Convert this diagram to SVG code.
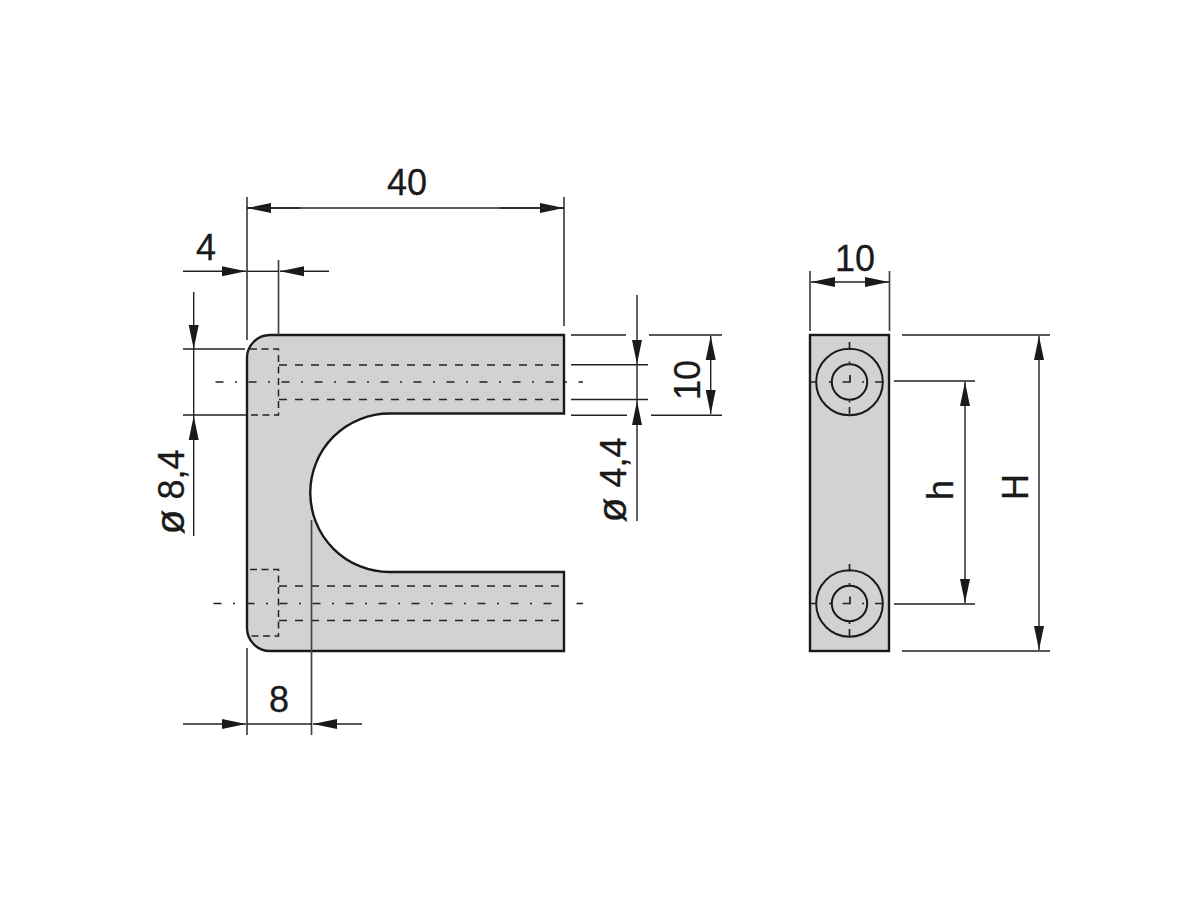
<svg xmlns="http://www.w3.org/2000/svg" width="1200" height="900" viewBox="0 0 1200 900">
<defs>
<marker id="a" viewBox="-25 -6 25 12" refX="0" refY="0" markerUnits="userSpaceOnUse" markerWidth="25" markerHeight="12" orient="auto"><path d="M0,0L-24,-5V5Z" fill="#1a1a1a"/></marker>
</defs>
<style>
.body{fill:#d2d2d3;stroke:#1a1a1a;stroke-width:2.4}
.d{stroke:#222;stroke-width:1.4;fill:none}
.x{stroke:#444;stroke-width:1.7;fill:none}
.ar{stroke:#222;stroke-width:1.4;fill:none;marker-end:url(#a)}
.hid{stroke:#222;stroke-width:1.6;fill:none;stroke-dasharray:8 8}
.hid2{stroke:#222;stroke-width:1.5;fill:none;stroke-dasharray:7 4.500}
.cl{stroke:#222;stroke-width:1.6;fill:none;stroke-dasharray:8 11.500 2 11.500}
.c{stroke:#1a1a1a;stroke-width:2;fill:none}
.t{stroke:#222;stroke-width:1.7;fill:none}
text{font-family:"Liberation Sans",Arial,sans-serif;font-size:36px;fill:#1a1a1a;text-anchor:middle;stroke:#1a1a1a;stroke-width:.3}
</style>
<rect width="1200" height="900" fill="#fff"/>
<g id="front-view">
<path class="body" d="M270,335H564V413.500H389.500A79.250,79.250 0 0 0 389.500,572H564V651H270A23,23 0 0 1 247,628V358A23,23 0 0 1 270,335Z"/>
<path class="hid2" d="M250,349H278.500V415H247"/>
<path class="hid" d="M279,365H564M279,399.500H564"/>
<path class="hid2" d="M250,569.500H278.500V636H250"/>
<path class="hid" d="M279,586H564M279,620.500H564"/>
<path class="cl" d="M215.500,382H583M213.500,603.500H583"/>
</g>
<g id="side-view">
<rect class="body" x="810" y="335" width="79" height="316"/>
<circle class="c" cx="849.500" cy="382" r="33.300"/>
<circle class="c" cx="849.500" cy="382" r="17.700"/>
<circle class="c" cx="849.500" cy="603.500" r="33.300"/>
<circle class="c" cx="849.500" cy="603.500" r="17.700"/>
<path class="t" d="M849.500,342V350M849.500,407V416M810,382H816M875,382H882.500M850,375V382H842.500M849.500,361.500V363.500M849.500,400.500V402.500M829,382H831M862,382H864"/>
<path class="t" d="M849.500,564V571.500M849.500,629V636.500M810,603.500H816M875,603.500H882.500M850,596.500V603.500H842.500M849.500,583V585M849.500,622V624M829,603.500H831M862,603.500H864"/>
</g>
<g id="connectors">
<path class="x" d="M247,197V340M564,197V326M278.500,260V335M247,648V735M311.500,520V735M810,271V331M889.500,271V331"/>
<path class="d" d="M183,349H245M183,415H247M571,335H626M649,335H722M571,364.700H648M571,399.500H648M571,415.300H627M651,415.300H722M902,335H1050M902,651H1050M894,381H975M894,604H975"/>
<line class="ar" x1="300" y1="208" x2="247" y2="208"/><line class="ar" x1="500" y1="208" x2="564" y2="208"/><path class="d" d="M247,208H564"/>
<line class="ar" x1="183" y1="271.300" x2="246" y2="271.300"/><line class="ar" x1="329" y1="271.300" x2="280" y2="271.300"/><path class="d" d="M247,271.300H279"/>
<line class="ar" x1="193.700" y1="292" x2="193.700" y2="349"/><line class="ar" x1="193.700" y1="536" x2="193.700" y2="416"/><path class="d" d="M193.700,349V416"/>
<line class="ar" x1="183" y1="724" x2="246" y2="724"/><line class="ar" x1="362" y1="724" x2="313" y2="724"/><path class="d" d="M247,724H312"/>
<line class="ar" x1="637" y1="295" x2="637" y2="364"/><line class="ar" x1="637" y1="521" x2="637" y2="401"/><path class="d" d="M637,364V401"/>
<line class="ar" x1="710.700" y1="375" x2="710.700" y2="336"/><line class="ar" x1="710.700" y1="375" x2="710.700" y2="414"/>
<line class="ar" x1="850" y1="282" x2="811" y2="282"/><line class="ar" x1="850" y1="282" x2="889" y2="282"/>
<line class="ar" x1="965" y1="490" x2="965" y2="382"/><line class="ar" x1="965" y1="490" x2="965" y2="603"/>
<line class="ar" x1="1039" y1="490" x2="1039" y2="336"/><line class="ar" x1="1039" y1="490" x2="1039" y2="650"/>
</g>
<g id="labels">
<text x="407" y="195">40</text>
<text x="206" y="260">4</text>
<text x="279" y="712">8</text>
<text x="855" y="271">10</text>
<text transform="translate(700,380) rotate(-90)">10</text>
<text transform="translate(184,492) rotate(-90)" xml:space="preserve"><tspan font-size="41">ø</tspan> 8,4</text>
<text transform="translate(626,480) rotate(-90)" xml:space="preserve"><tspan font-size="41">ø</tspan> 4,4</text>
<text transform="translate(953,490) rotate(-90)">h</text>
<text transform="translate(1028,487) rotate(-90)">H</text>
</g>
</svg>
